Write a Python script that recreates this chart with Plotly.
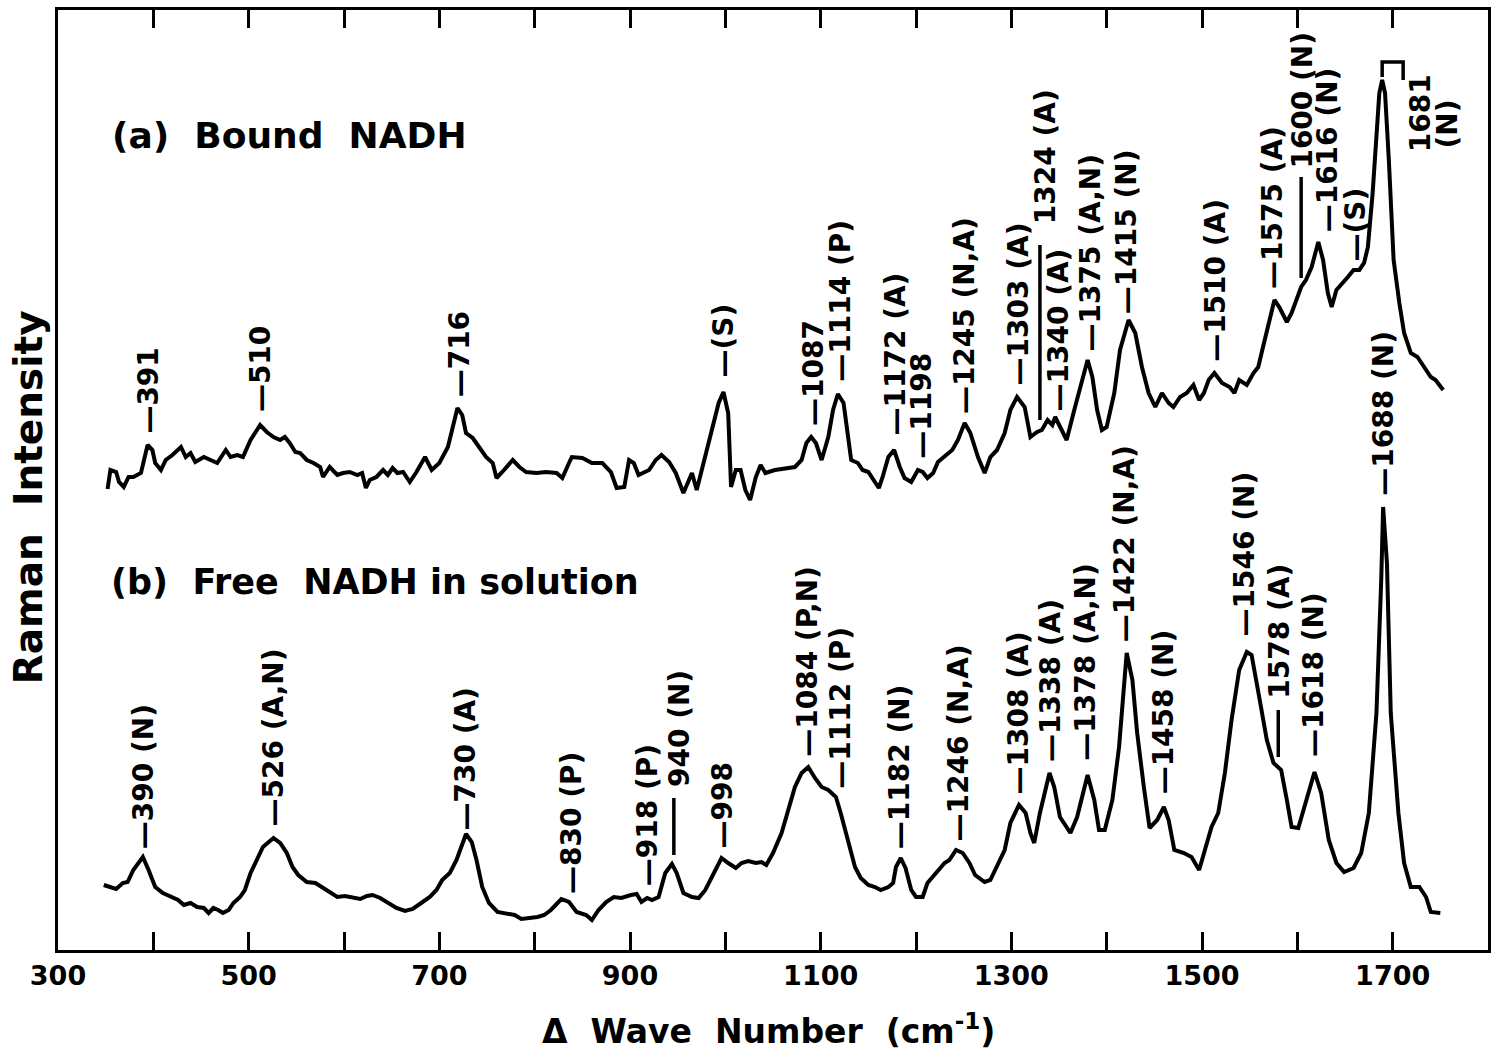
import plotly.graph_objects as go

FONT = "DejaVu Sans"

# ---------------- data: (a) Bound NADH ----------------
bound_wn = [352,355,361,364,369,374,379,387,394,399,402,408,413,420,429,434,439,444,453,460,467,476,481,488,494,
            502,512,519,526,533,538,543,549,554,561,568,575,578,585,593,599,606,614,619,623,627,634,641,646,651,
            656,662,669,676,685,692,700,709,714,719,724,728,735,742,749,756,760,766,777,784,791,802,812,823,829,
            836,839,850,860,871,880,886,894,899,904,909,920,927,933,941,948,956,965,970,979,988,993,998,1003,1006,
            1011,1016,1021,1026,1032,1037,1042,1052,1063,1073,1080,1085,1090,1095,1101,1108,1113,1118,1124,1129,
            1132,1139,1144,1150,1157,1161,1165,1171,1177,1183,1188,1195,1202,1207,1212,1218,1223,1231,1238,1244,
            1251,1257,1265,1272,1278,1285,1293,1299,1306,1314,1320,1327,1332,1338,1343,1346,1351,1358,1366,1374,
            1380,1385,1390,1395,1400,1408,1414,1423,1430,1437,1444,1451,1458,1465,1470,1477,1484,1491,1497,1502,
            1507,1513,1521,1529,1534,1539,1547,1554,1559,1564,1570,1576,1581,1589,1594,1599,1604,1609,1615,1622,
            1627,1632,1636,1641,1648,1653,1659,1665,1670,1674,1679,1683,1686,1689,1692,1696,1701,1707,1712,1719,
            1726,1733,1740,1745,1753]
bound_int = [461,480,478,468,463,473,473,477,505,500,487,480,490,495,503,493,497,488,493,490,487,500,493,495,493,
             510,525,518,513,510,513,507,498,497,490,487,483,473,483,475,477,478,475,477,462,470,473,480,475,482,
             477,478,468,478,493,480,487,503,523,542,535,517,512,503,493,487,472,478,490,483,478,477,478,477,472,
             487,493,492,487,487,478,462,463,490,487,475,480,490,495,488,477,457,477,460,493,527,547,558,537,463,
             480,480,460,450,473,485,477,480,482,483,490,507,513,507,490,513,540,556,547,513,
             490,487,480,478,467,462,473,493,500,483,472,468,480,478,472,477,488,495,500,510,
             527,517,493,477,493,500,517,540,553,543,513,518,520,530,525,533,523,510,540,570,
             590,573,540,520,523,557,600,630,617,583,557,543,557,547,543,553,557,565,550,557,
             570,577,567,563,557,570,565,577,583,603,627,650,643,628,637,650,663,670,683,708,
             690,657,643,660,667,673,680,680,687,703,757,807,857,870,857,790,690,647,617,597,
             593,583,573,570,560]

# ---------------- data: (b) Free NADH in solution ----------------
free_wn = [348,355,361,368,373,379,389,395,402,410,418,426,432,439,446,453,458,463,468,473,479,484,491,496,502,
           509,515,526,533,540,546,552,561,570,578,585,593,601,609,617,624,630,638,646,655,664,672,681,690,697,
           703,711,718,723,728,734,739,745,752,761,770,779,786,794,803,810,817,822,828,836,844,854,860,867,875,
           883,891,901,907,912,918,923,930,937,944,949,956,965,972,979,988,996,1003,1011,1017,1024,1032,1038,1043,
           1050,1059,1066,1073,1080,1087,1094,1101,1108,1116,1121,1129,1136,1142,1150,1157,1163,1171,1176,1179,
           1184,1189,1195,1200,1207,1212,1221,1230,1235,1242,1249,1256,1262,1272,1278,1285,1293,1299,1308,1315,
           1320,1324,1330,1340,1345,1351,1362,1369,1380,1387,1392,1398,1406,1413,1418,1421,1427,1432,1439,1445,
           1453,1460,1465,1471,1481,1489,1497,1503,1510,1517,1524,1531,1539,1547,1552,1560,1568,1575,1583,1589,
           1594,1601,1609,1618,1625,1633,1641,1649,1659,1667,1675,1683,1688,1690,1694,1698,1706,1712,1719,1728,
           1735,1740,1750]
free_int = [65,63,61,67,68,80,93,80,63,57,53,50,45,47,43,42,37,42,40,37,40,47,53,60,77,
            90,103,112,107,97,83,75,68,67,62,57,53,54,52,51,54,55,52,47,42,39,41,47,53,60,
            70,77,90,103,116,108,90,63,47,38,37,35,31,32,33,35,40,45,51,48,38,35,30,40,48,
            53,52,55,56,48,52,50,53,77,86,77,57,53,52,60,77,92,87,82,87,89,87,88,85,
            97,117,140,163,177,183,172,163,160,153,137,110,83,72,65,63,60,63,67,83,
            92,82,60,53,53,67,77,87,90,100,97,87,75,68,70,83,100,127,145,137,
            117,107,137,177,163,133,117,133,175,150,120,120,150,203,263,297,270,217,163,122,
            130,143,130,100,97,93,80,100,123,137,177,230,280,298,295,253,210,187,180,150,
            123,122,150,178,157,110,87,78,82,97,137,237,370,443,387,237,137,87,63,63,
            53,38,37]

# ---------------- peak labels (text, wavenumber, bottom of label in intensity units) ----------------
bound_label_text = ["—391", "—510", "—716", "—(S)", "—1087", "—1114 (P)", "—1172 (A)", "—1198",
                    "—1245 (N,A)", "—1303 (A)", "1324 (A)", "—1340 (A)", "—1375 (A,N)", "—1415 (N)",
                    "—1510 (A)", "—1575 (A)", "1600 (N)", "—1616 (N)", "—(S)", "1681", "(N)"]
bound_label_wn = [394, 512, 721, 998, 1092, 1120, 1178, 1205, 1251, 1307, 1336, 1349, 1382, 1421,
                  1514, 1574, 1605, 1632, 1660, 1729, 1757]
bound_label_int = [515, 537, 552, 572, 523, 567, 513, 490, 535, 563, 725, 537, 597, 635,
                   587, 660, 780, 717, 687, 797, 800]

free_label_text = ["—390 (N)", "—526 (A,N)", "—730 (A)", "—830 (P)", "—918 (P)", "940 (N)", "—998",
                   "—1084 (P,N)", "—1112 (P)", "—1182 (N)", "—1246 (N,A)", "—1308 (A)", "—1338 (A)",
                   "—1378 (A,N)", "—1422 (N,A)", "—1458 (N)", "—1546 (N)", "1578 (A)", "—1618 (N)",
                   "—1688 (N)"]
free_label_wn = [390, 525, 727, 838, 918, 952, 996, 1086, 1120, 1183, 1245, 1308, 1341, 1377, 1419,
                 1460, 1545, 1581, 1617, 1690]
free_label_int = [100, 122, 118, 55, 63, 162, 100, 192, 160, 100, 108, 155, 187, 188, 307,
                  155, 313, 250, 192, 453]

# long leader lines: wavenumber, lower end, upper end
leader_wn = [1330, 1604, 946, 1580]
leader_lo = [530, 672, 95, 193]
leader_hi = [705, 773, 152, 240]

# bracket for 1681 peak
bracket_wn = [1689, 1711]
bracket_int = [873, 888, 870]

panel_text = ["(a)\u00a0\u00a0Bound\u00a0\u00a0NADH", "(b)\u00a0\u00a0Free\u00a0\u00a0NADH\u00a0in\u00a0solution"]
panel_wn = [355, 353]
panel_int = [815, 368]
panel_size = [36, 35]

label_ticks = list(range(300, 1701, 200))

# ---------------- figure ----------------
fig = go.Figure()
fig.add_trace(go.Scatter(x=bound_wn, y=bound_int, mode="lines",
                         line=dict(color="black", width=4), hoverinfo="skip"))
fig.add_trace(go.Scatter(x=free_wn, y=free_int, mode="lines",
                         line=dict(color="black", width=4), hoverinfo="skip"))

ann = []
for t, x, y in list(zip(bound_label_text, bound_label_wn, bound_label_int)) + \
        list(zip(free_label_text, free_label_wn, free_label_int)):
    ann.append(dict(x=x, y=y, xref="x", yref="y", text=t, textangle=-90, showarrow=False,
                    xanchor="center", yanchor="bottom", align="left",
                    font=dict(family=FONT, size=28, color="black", weight="bold"), borderpad=0))
for t, x, y, s in zip(panel_text, panel_wn, panel_int, panel_size):
    ann.append(dict(x=x, y=y, xref="x", yref="y", text=t, showarrow=False,
                    xanchor="left", yanchor="middle",
                    font=dict(family=FONT, size=s, color="black", weight="bold")))
ann.append(dict(x=-0.02, y=0.482, xref="paper", yref="paper", text="Raman\u00a0\u00a0Intensity",
                textangle=-90, showarrow=False, xanchor="center", yanchor="middle",
                font=dict(family=FONT, size=39, color="black", weight="bold")))
ann.append(dict(x=0.497, y=-0.085, xref="paper", yref="paper",
                text="Δ\u00a0\u00a0Wave\u00a0\u00a0Number\u00a0\u00a0(cm<sup>-1</sup>)",
                showarrow=False, xanchor="center", yanchor="middle",
                font=dict(family=FONT, size=33, color="black", weight="bold")))

shapes = []
for x, lo, hi in zip(leader_wn, leader_lo, leader_hi):
    shapes.append(dict(type="line", xref="x", yref="y", x0=x, x1=x, y0=lo, y1=hi,
                       line=dict(color="black", width=3.5)))
bx0, bx1 = bracket_wn
by0, by1, by2 = bracket_int
shapes.append(dict(type="path", xref="x", yref="y",
                   path=f"M {bx0},{by0} L {bx0},{by1} L {bx1},{by1} L {bx1},{by2}",
                   line=dict(color="black", width=3.5)))

fig.update_layout(
    width=1492, height=1052,
    margin=dict(l=58, r=1, t=10, b=102),
    paper_bgcolor="white", plot_bgcolor="white",
    showlegend=False,
    annotations=ann, shapes=shapes,
    xaxis=dict(range=[300, 1800], tickmode="array", tickvals=label_ticks,
               ticktext=[str(v) for v in label_ticks],
               ticks="inside", ticklen=18, tickwidth=3, tickcolor="black",
               minor=dict(dtick=100, tick0=300, ticks="inside", ticklen=18, tickwidth=3,
                          tickcolor="black", showgrid=False),
               showline=True, linecolor="black", linewidth=3, mirror="ticks",
               showgrid=False, zeroline=False,
               tickfont=dict(family=FONT, size=27, color="black", weight="bold")),
    yaxis=dict(range=[0, 940], showticklabels=False, ticks="",
               showline=True, linecolor="black", linewidth=3, mirror=True,
               showgrid=False, zeroline=False),
)

fig.write_html("out.html")
